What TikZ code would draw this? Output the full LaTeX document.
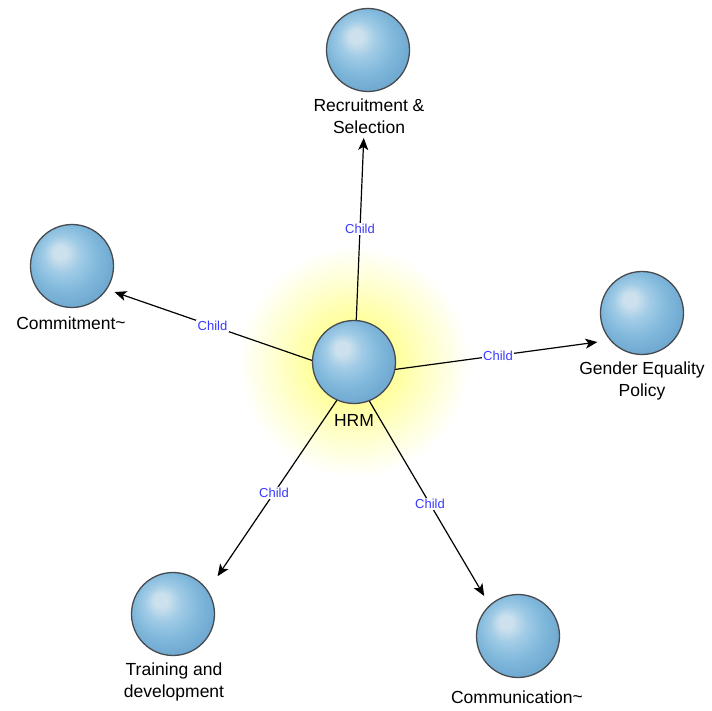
\documentclass[tikz,border=0pt]{standalone}
\usepackage{fontspec}
\setmainfont{Liberation Sans}
\usetikzlibrary{arrows.meta}
\definecolor{sphA}{RGB}{204,225,237}
\definecolor{sphB}{RGB}{160,203,230}
\definecolor{sphC}{RGB}{128,184,219}
\definecolor{sphD}{RGB}{98,156,200}
\definecolor{glowc}{RGB}{255,255,160}
\definecolor{glowm}{RGB}{255,255,205}
\definecolor{childblue}{RGB}{58,58,255}
\definecolor{rim}{RGB}{72,75,80}
% in TikZ the middle 50bp x 50bp of a shading covers the path: 25bp = half size
\pgfdeclareradialshading{sph}{\pgfpoint{-8bp}{9bp}}{color(0bp)=(sphA); color(4bp)=(sphA); color(11bp)=(sphB); color(20bp)=(sphC); color(35bp)=(sphD); color(45bp)=(sphD)}
\pgfdeclareradialshading{glow}{\pgfpoint{0bp}{0bp}}{color(0bp)=(glowc); color(7bp)=(glowc); color(12bp)=(glowm); color(18bp)=(white); color(50bp)=(white)}
\tikzset{
  sphere/.style={circle, minimum size=83pt, inner sep=0pt, draw=rim, line width=1.3pt, shading=sph},
  lbl/.style={align=center, font=\fontsize{17.5}{22}\selectfont, inner sep=0pt},
  edge/.style={draw=black, line width=1.2pt, -{Stealth[length=12pt,width=10pt,inset=3pt]}},
  childlbl/.style={fill=white, inner sep=1.5pt, text=childblue, font=\fontsize{13}{15}\selectfont}
}
\begin{document}
\begin{tikzpicture}[x=1pt,y=-1pt]
\useasboundingbox (0,0) rectangle (712,711);
\fill[white] (0,0) rectangle (712,711);
\fill[shading=glow] (194,202) rectangle (514,522);
% aim points of the groups
\coordinate (hrm) at (354,375);
\coordinate (rec) at (366,83);
\coordinate (com) at (71,277);
\coordinate (gen) at (642,336);
\coordinate (tra) at (194,611);
\coordinate (cmn) at (506,633);
% connectors
\draw[edge, shorten >=55pt] (hrm) -- node[childlbl, pos=0.5]{Child} (rec);
\draw[edge, shorten >=46pt] (hrm) -- node[childlbl, pos=0.5]{Child} (com);
\draw[edge, shorten >=45pt] (hrm) -- node[childlbl, pos=0.5]{Child} (gen);
\draw[edge, shorten >=42pt] (hrm) -- node[childlbl, pos=0.5]{Child} (tra);
\draw[edge, shorten >=43pt] (hrm) -- node[childlbl, pos=0.5]{Child} (cmn);
% spheres and labels
\node[sphere] (hrmS) at (354,362) {};
\node[lbl] (hrmL) at (354,420) {HRM};
\node[sphere] (recS) at (368,50) {};
\node[lbl] (recL) at (369,116) {Recruitment \&\\Selection};
\node[sphere] (comS) at (72,266) {};
\node[lbl] (comL) at (71,323) {Commitment\raisebox{0.1ex}{\char"7E}};
\node[sphere] (genS) at (642,313) {};
\node[lbl] (genL) at (642,381) {Gender Equality\\Policy};
\node[sphere] (traS) at (173,614) {};
\node[lbl] (traL) at (174,682) {Training and\\development};
\node[sphere] (cmnS) at (518,636) {};
\node[lbl] (cmnL) at (517,697) {Communication\raisebox{0.1ex}{\char"7E}};
\end{tikzpicture}
\end{document}
